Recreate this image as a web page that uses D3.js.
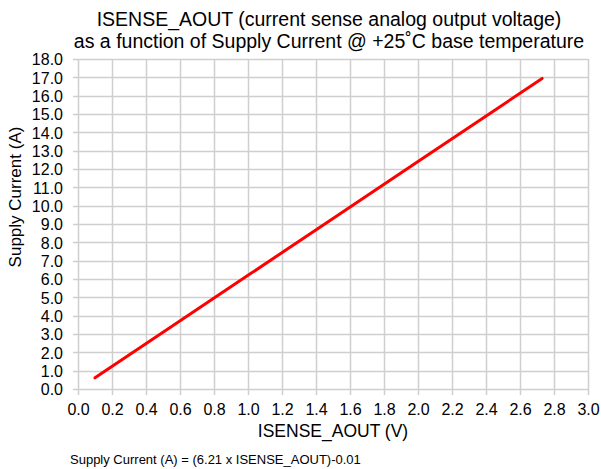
<!DOCTYPE html>
<html>
<head>
<meta charset="utf-8">
<script src="https://cdn.jsdelivr.net/npm/d3@7"></script>
<style>
  body { margin: 0; background: #fff; }
  text { font-family: "Liberation Sans", Arial, sans-serif; fill: #000; }
</style>
</head>
<body>
<div id="chart"></div>
<script>
const svgWidth = 601;
const svgHeight = 469;

const margin = { top: 59, right: 13, bottom: 80, left: 78 };
const width = 588 - margin.left;
const height = 389 - margin.top;

// data
const voltage = [0.10, 0.50, 1.00, 1.50, 2.00, 2.50, 2.73];
const current = [0.61, 3.09, 6.20, 9.30, 12.41, 15.51, 16.94];
const xTicks = d3.range(0, 3.01, 0.2);
const yTicks = d3.range(0, 18.01, 1);

const titleLines = [
  "ISENSE_AOUT (current sense analog output voltage)",
  "as a function of Supply Current @ +25˚C base temperature"
];
const xTitle = "ISENSE_AOUT (V)";
const yTitle = "Supply Current (A)";
const footNote = "Supply Current (A) = (6.21 x ISENSE_AOUT)-0.01";

const points = voltage.map((v, i) => ({ x: v, y: current[i] }));

const svg = d3.select("#chart")
  .append("svg")
  .attr("width", svgWidth)
  .attr("height", svgHeight);

const chartGroup = svg.append("g")
  .attr("transform", `translate(${margin.left}, ${margin.top})`);

const xScale = d3.scaleLinear().domain([0, 3]).range([0, width]);
const yScale = d3.scaleLinear().domain([0, 18]).range([height, 0]);

// gridlines
chartGroup.append("g")
  .selectAll("line")
  .data(yTicks)
  .join("line")
  .attr("x1", -5)
  .attr("x2", width)
  .attr("y1", d => Math.round(yScale(d)) + 0.5)
  .attr("y2", d => Math.round(yScale(d)) + 0.5)
  .attr("stroke", "#cfcfcf")
  .attr("stroke-width", 1.5);

chartGroup.append("g")
  .selectAll("line")
  .data(xTicks)
  .join("line")
  .attr("x1", d => Math.round(xScale(d)) + 0.5)
  .attr("x2", d => Math.round(xScale(d)) + 0.5)
  .attr("y1", 0)
  .attr("y2", height + 6)
  .attr("stroke", "#cfcfcf")
  .attr("stroke-width", 1.5);

// axes (labels only, grid drawn above)
const bottomAxis = d3.axisBottom(xScale)
  .tickValues(xTicks)
  .tickFormat(d3.format(".1f"))
  .tickSize(0)
  .tickPadding(15);

const leftAxis = d3.axisLeft(yScale)
  .tickValues(yTicks)
  .tickFormat(d3.format(".1f"))
  .tickSize(0)
  .tickPadding(15);

const gx = chartGroup.append("g")
  .attr("transform", `translate(0, ${height})`)
  .call(bottomAxis);
gx.select(".domain").remove();
gx.selectAll("text")
  .attr("font-size", 16)
  .attr("font-family", "Liberation Sans, Arial, sans-serif")
  .attr("fill", "#000");

const gy = chartGroup.append("g").call(leftAxis);
gy.select(".domain").remove();
gy.selectAll("text")
  .attr("font-size", 16)
  .attr("dy", "0.36em")
  .attr("font-family", "Liberation Sans, Arial, sans-serif")
  .attr("fill", "#000");

// line
const line = d3.line()
  .x(d => xScale(d.x))
  .y(d => yScale(d.y));

chartGroup.append("path")
  .datum(points)
  .attr("d", line)
  .attr("fill", "none")
  .attr("stroke", "#ff0000")
  .attr("stroke-width", 3)
  .attr("stroke-linecap", "round");

// titles
svg.append("g")
  .selectAll("text")
  .data(titleLines)
  .join("text")
  .attr("x", 329)
  .attr("y", (d, i) => 26 + i * 22)
  .attr("text-anchor", "middle")
  .attr("font-size", 19.5)
  .text(d => d);

svg.append("text")
  .attr("x", 333)
  .attr("y", 437)
  .attr("text-anchor", "middle")
  .attr("font-size", 17.5)
  .text(xTitle);

svg.append("text")
  .attr("transform", "translate(21, 197) rotate(-90)")
  .attr("text-anchor", "middle")
  .attr("font-size", 17)
  .text(yTitle);

svg.append("text")
  .attr("x", 70)
  .attr("y", 464)
  .attr("font-size", 13)
  .text(footNote);
</script>
</body>
</html>
